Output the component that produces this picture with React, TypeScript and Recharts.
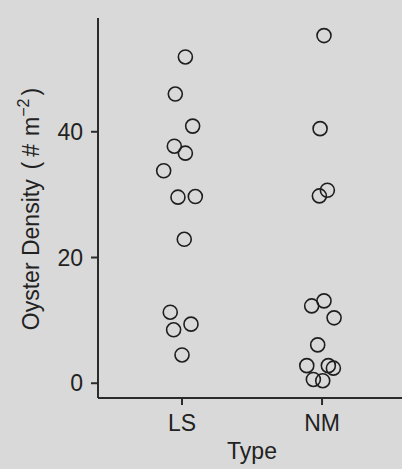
import { ScatterChart, Scatter, XAxis, YAxis, Label } from "recharts";

// categories on the x axis
const categories = ["LS", "NM"];

// jittered x positions (category index + jitter) and densities
const lsJitter = [1.024, 0.952, 1.076, 0.945, 1.024, 0.869, 0.971, 1.095, 1.016, 0.916, 1.064, 0.94, 1.0];
const lsDensity = [51.9, 46.0, 40.9, 37.7, 36.6, 33.8, 29.6, 29.7, 22.9, 11.3, 9.4, 8.5, 4.5];

const nmJitter = [2.014, 1.986, 2.038, 1.981, 2.014, 1.926, 2.086, 1.969, 1.891, 2.045, 2.081, 1.938, 2.005];
const nmDensity = [55.3, 40.5, 30.7, 29.8, 13.1, 12.3, 10.4, 6.1, 2.8, 2.8, 2.4, 0.6, 0.4];

const yTicks = [0, 20, 40];

const lsData = lsJitter.map((x, i) => ({ x, y: lsDensity[i] }));
const nmData = nmJitter.map((x, i) => ({ x, y: nmDensity[i] }));

const font = '"Liberation Sans", Arial, sans-serif';
const ink = "#222";

const OpenCircle = (props: any) => (
  <circle cx={props.cx} cy={props.cy} r={7} fill="none" stroke="#1e1e1e" strokeWidth={1.6} />
);

const YTitle = (props: any) => {
  const vb = props.viewBox;
  const cx = vb.x + 38.5;
  const cy = vb.y + vb.height / 2 + 1;
  return (
    <text
      x={cx}
      y={cy}
      transform={`rotate(-90 ${cx} ${cy})`}
      textAnchor="middle"
      fontFamily={font}
      fontSize={23}
      fill={ink}
    >
      <tspan>Oyster Density</tspan>
      <tspan dx={10}>(</tspan>
      <tspan dx={5}>#</tspan>
      <tspan dx={8}>m</tspan>
      <tspan fontSize={16} dy={-10}>−2</tspan>
      <tspan dx={3} dy={10}>)</tspan>
    </text>
  );
};

const XTitle = (props: any) => {
  const vb = props.viewBox;
  return (
    <text
      x={vb.x + vb.width / 2 + 2}
      y={vb.y + 61}
      textAnchor="middle"
      fontFamily={font}
      fontSize={23}
      fill={ink}
    >
      Type
    </text>
  );
};

export default function App() {
  return (
    <div style={{ position: "absolute", left: 0, top: 0, width: 402, height: 469, background: "#d9d9d9" }}>
      <ScatterChart width={402} height={469} margin={{ top: 18, right: 0, left: 0, bottom: 0 }}>
        <XAxis
          type="number"
          dataKey="x"
          domain={[0.4, 2.571]}
          allowDataOverflow
          ticks={[1, 2]}
          tickFormatter={(v: number) => categories[v - 1]}
          height={71}
          tickSize={7}
          tickMargin={10}
          axisLine={{ stroke: "#2b2b2b", strokeWidth: 2 }}
          tickLine={{ stroke: "#2b2b2b", strokeWidth: 2 }}
          tick={{ fill: ink, fontSize: 23, fontFamily: font }}
        >
          <Label content={XTitle} />
        </XAxis>
        <YAxis
          type="number"
          dataKey="y"
          domain={[-2.35, 58.1]}
          allowDataOverflow
          ticks={yTicks}
          width={98}
          tickSize={7}
          tickMargin={8}
          axisLine={{ stroke: "#2b2b2b", strokeWidth: 2 }}
          tickLine={{ stroke: "#2b2b2b", strokeWidth: 2 }}
          tick={{ fill: ink, fontSize: 23, fontFamily: font }}
        >
          <Label content={YTitle} />
        </YAxis>
        <Scatter data={lsData} shape={OpenCircle} isAnimationActive={false} />
        <Scatter data={nmData} shape={OpenCircle} isAnimationActive={false} />
      </ScatterChart>
    </div>
  );
}
